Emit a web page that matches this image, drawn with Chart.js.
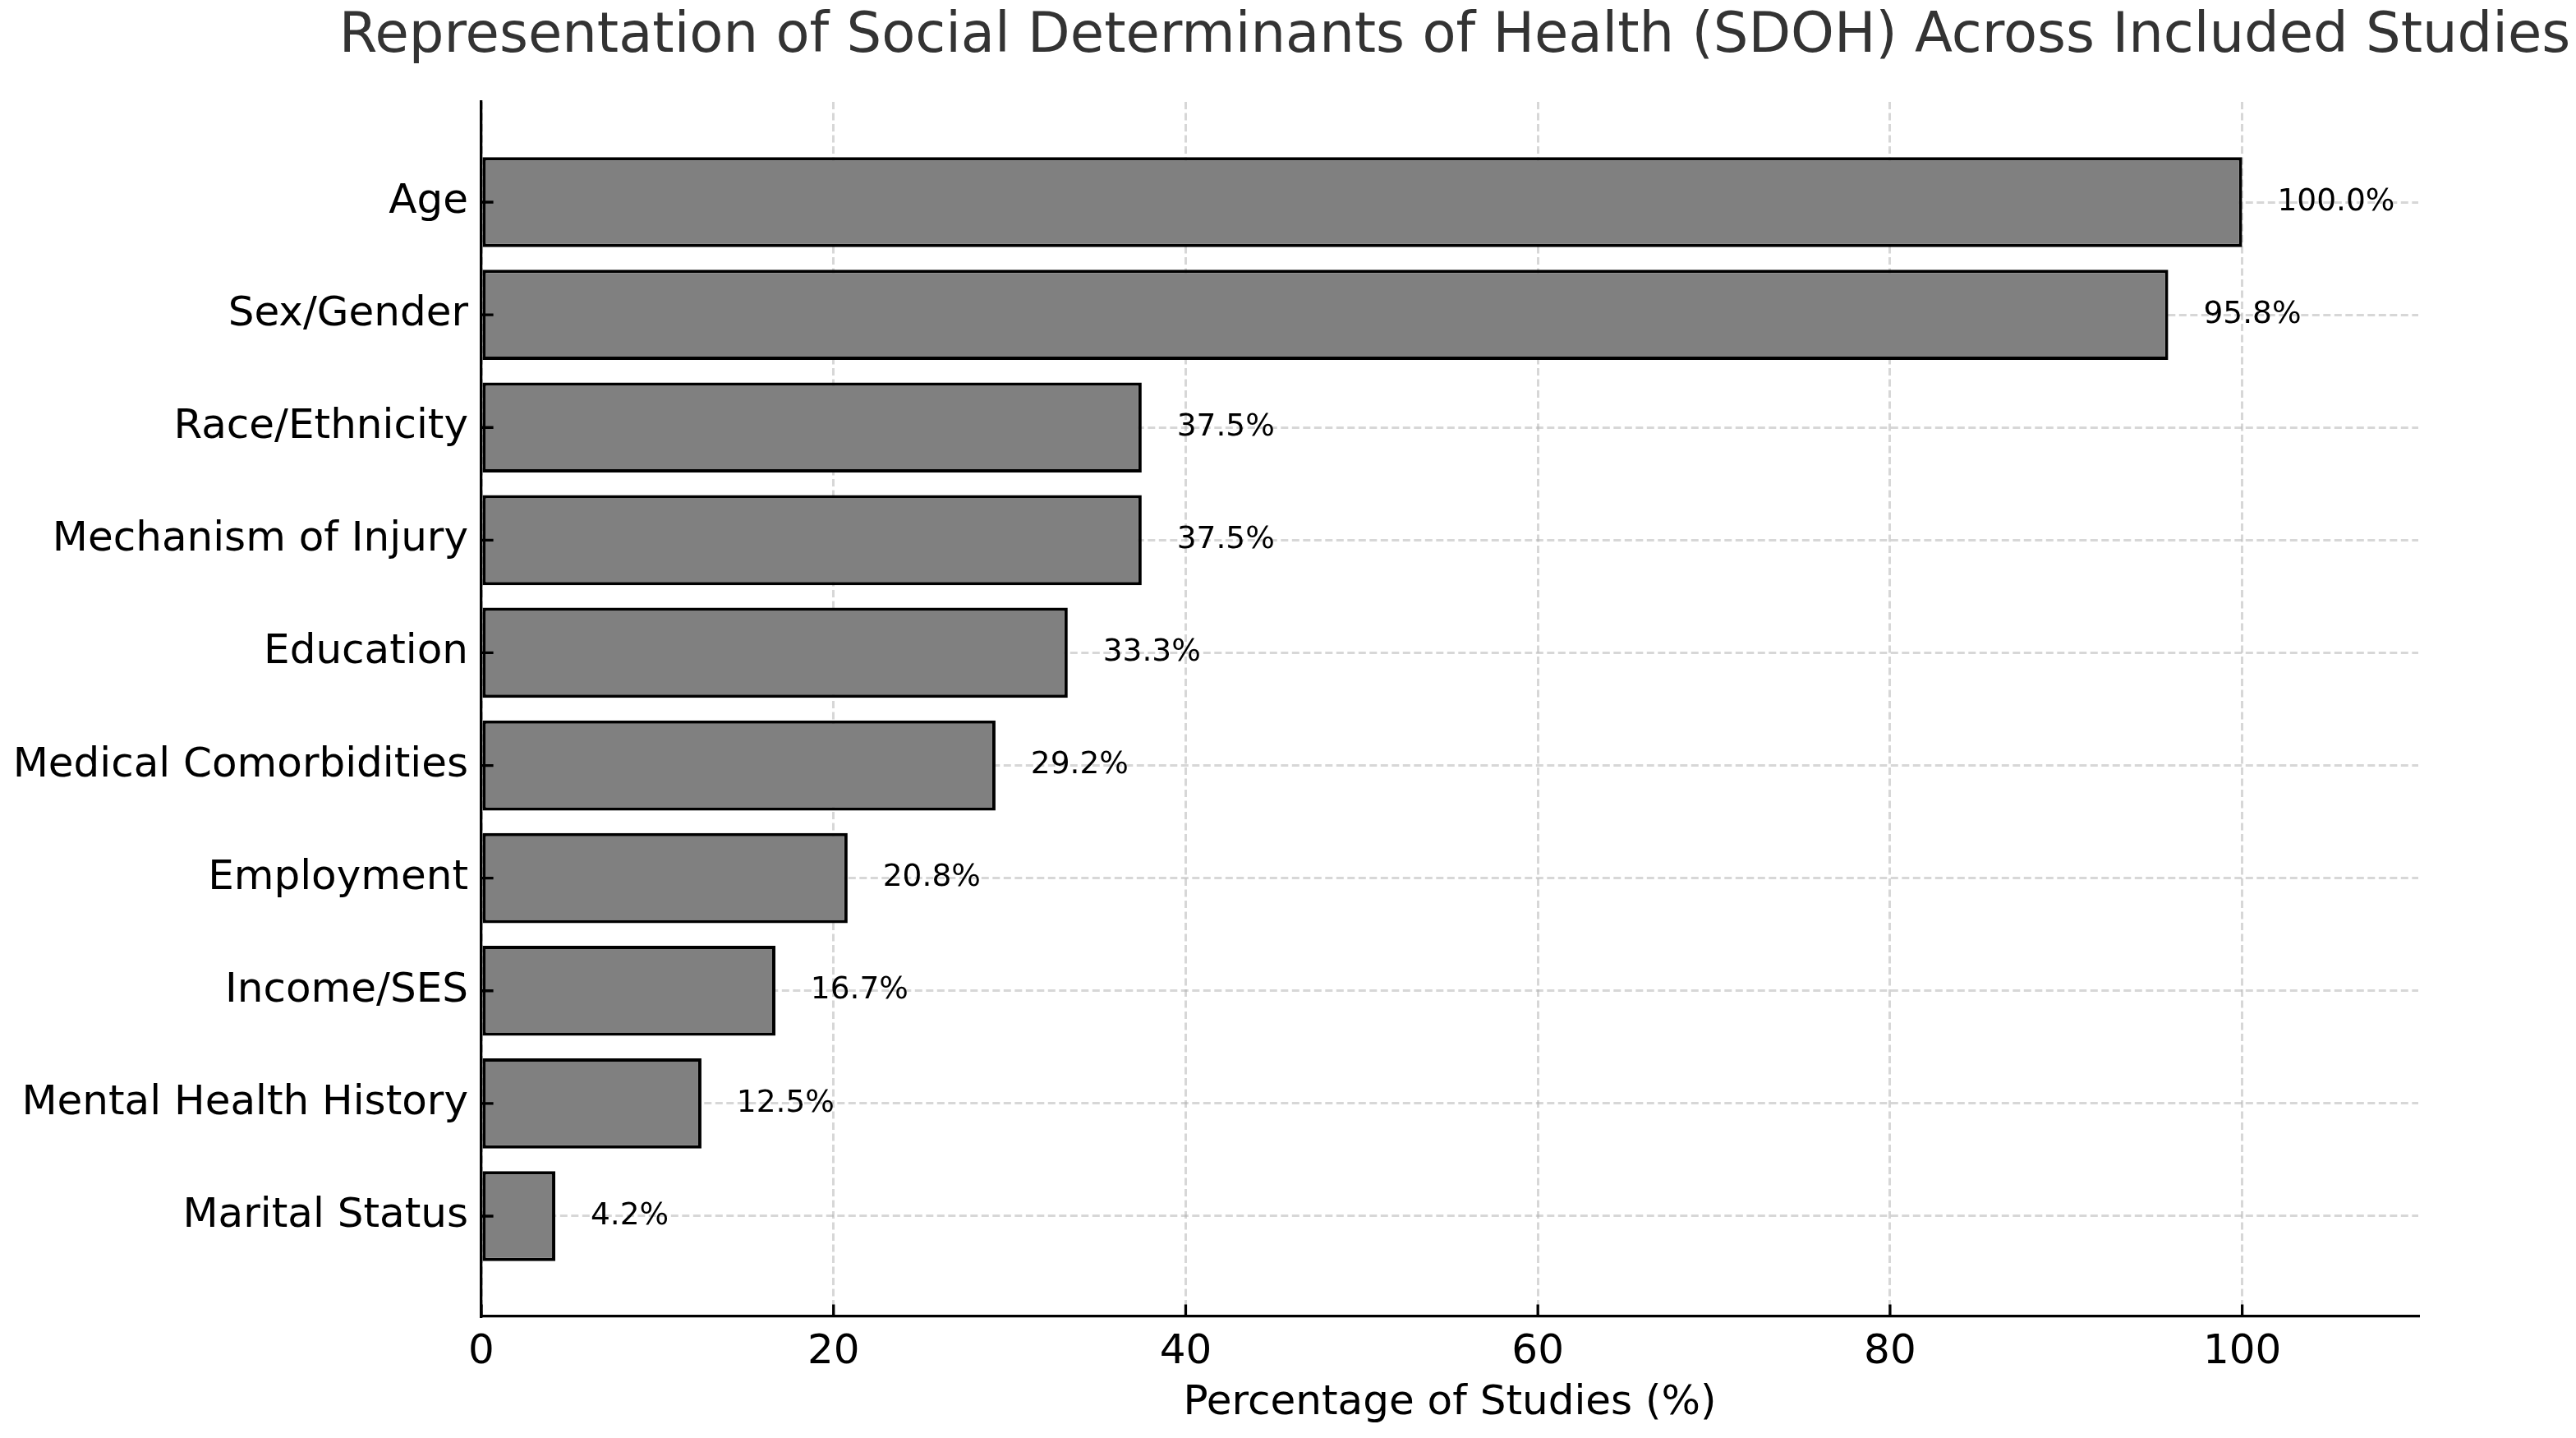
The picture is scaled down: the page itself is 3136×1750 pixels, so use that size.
<!DOCTYPE html>
<html>
<head>
<meta charset="utf-8">
<title>SDOH representation</title>
<script src="https://cdn.jsdelivr.net/npm/chart.js@4.4.1/dist/chart.umd.min.js"></script>
<style>
    html, body { margin: 0; padding: 0; background: #ffffff; }
    #sdoh-chart { display: block; }
</style>
</head>
<body>
<canvas id="sdoh-chart" width="3136" height="1750"></canvas>
<script>
const categories = [
    'Age',
    'Sex/Gender',
    'Race/Ethnicity',
    'Mechanism of Injury',
    'Education',
    'Medical Comorbidities',
    'Employment',
    'Income/SES',
    'Mental Health History',
    'Marital Status',
];
const percentages = [100.0, 95.8, 37.5, 37.5, 33.3, 29.2, 20.8, 16.7, 12.5, 4.2];
const xTicks = [0, 20, 40, 60, 80, 100];

const TITLE = 'Representation of Social Determinants of Health (SDOH) Across Included Studies';
const FONT = "'DejaVu Sans', 'Liberation Sans', sans-serif";
const GRID = 'rgba(176, 176, 176, 0.5)';

// title centred over the plot area, inward tick marks, value labels
const decorations = {
    id: 'decorations',
    afterDraw(chart) {
        const { ctx, chartArea, scales } = chart;
        const tickLen = 14.6;

        ctx.save();
        ctx.fillStyle = '#333333';
        ctx.font = `67.2px ${FONT}`;
        ctx.textAlign = 'center';
        ctx.textBaseline = 'alphabetic';
        ctx.fillText(TITLE, (chartArea.left + chartArea.right) / 2 + 6, 63);

        ctx.strokeStyle = '#000000';
        ctx.lineWidth = 3.3;
        ctx.beginPath();
        scales.x.ticks.forEach((tick) => {
            const px = scales.x.getPixelForValue(tick.value);
            ctx.moveTo(px, chartArea.bottom);
            ctx.lineTo(px, chartArea.bottom - tickLen);
        });
        scales.y.ticks.forEach((tick) => {
            const py = scales.y.getPixelForValue(tick.value);
            ctx.moveTo(chartArea.left, py);
            ctx.lineTo(chartArea.left + tickLen, py);
        });
        ctx.stroke();

        ctx.fillStyle = '#000000';
        ctx.font = `37.5px ${FONT}`;
        ctx.textAlign = 'left';
        ctx.textBaseline = 'middle';
        percentages.forEach((value, index) => {
            const px = scales.x.getPixelForValue(value + 2);
            const py = scales.y.getPixelForValue(index);
            ctx.fillText(`${value.toFixed(1)}%`, px, py);
        });
        ctx.restore();
    },
};

new Chart(document.getElementById('sdoh-chart'), {
    type: 'bar',
    data: {
        datasets: [{
            label: 'Percentage of Studies',
            data: percentages.map((value, index) => ({ x: value, y: index })),
            backgroundColor: '#808080',
            borderColor: '#000000',
            borderWidth: 4,
            borderSkipped: false,
            barPercentage: 0.8,
            categoryPercentage: 1.0,
        }],
    },
    options: {
        indexAxis: 'y',
        responsive: false,
        animation: false,
        devicePixelRatio: 1,
        layout: {
            padding: { top: 124, left: 0, right: 192, bottom: 0 },
        },
        plugins: {
            legend: { display: false },
            tooltip: { enabled: false },
            title: { display: false },
        },
        scales: {
            x: {
                type: 'linear',
                min: 0,
                max: 110,
                z: 1,
                afterBuildTicks: (scale) => {
                    scale.ticks = xTicks.map((value) => ({ value }));
                },
                afterFit: (scale) => {
                    scale.height = 148;
                },
                grid: {
                    color: GRID,
                    lineWidth: 3,
                    drawTicks: false,
                },
                border: {
                    display: true,
                    color: '#000000',
                    width: 3.3,
                    dash: [9, 4.5],
                },
                ticks: {
                    color: '#000000',
                    padding: 14,
                    font: { family: FONT, size: 50 },
                },
                title: {
                    display: true,
                    text: 'Percentage of Studies (%)',
                    color: '#000000',
                    font: { family: FONT, size: 50 },
                    padding: { top: 0, bottom: 12 },
                },
            },
            y: {
                type: 'linear',
                min: -0.89,
                max: 9.89,
                reverse: true,
                offset: false,
                z: 1,
                afterBuildTicks: (scale) => {
                    scale.ticks = categories.map((_, index) => ({ value: index }));
                },
                afterFit: (scale) => {
                    scale.width = 586;
                },
                grid: {
                    offset: false,
                    color: GRID,
                    lineWidth: 3,
                    drawTicks: false,
                },
                border: {
                    display: true,
                    color: '#000000',
                    width: 3.3,
                    dash: [9, 4.5],
                },
                ticks: {
                    autoSkip: false,
                    color: '#000000',
                    padding: 16,
                    font: { family: FONT, size: 50 },
                    callback: (value) => categories[value],
                },
            },
        },
    },
    plugins: [decorations],
});
</script>
</body>
</html>
